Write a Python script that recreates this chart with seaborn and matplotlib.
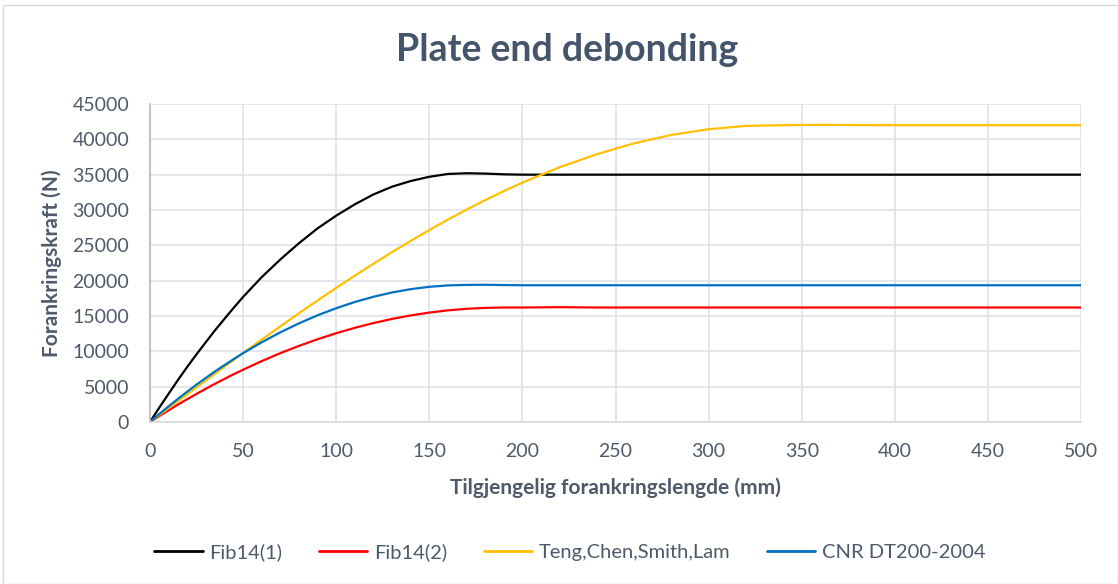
import numpy as np
import pandas as pd
import matplotlib
matplotlib.use("Agg")
import matplotlib.pyplot as plt
from matplotlib.patches import Rectangle
import seaborn as sns

# Available anchorage length (mm)
lengths = [0, 5, 10, 15, 20, 25, 30, 35, 40, 45, 50, 60, 70, 80, 90, 100, 110,
           120, 130, 140, 150, 160, 170, 180, 190, 200, 220, 240, 260, 280, 300,
           320, 340, 360, 380, 400, 450, 500]

# Anchorage force (N) per method
fib14_1 = [0, 2040, 4000, 5940, 7800, 9590, 11300, 13000, 14600, 16170, 17700,
           20500, 23000, 25300, 27400, 29200, 30800, 32200, 33300, 34100, 34700,
           35100, 35200, 35150, 35050, 35000, 35000, 35000, 35000, 35000, 35000,
           35000, 35000, 35000, 35000, 35000, 35000, 35000]
fib14_2 = [0, 840, 1660, 2460, 3230, 3980, 4710, 5420, 6100, 6770, 7400,
           8620, 9740, 10770, 11710, 12560, 13330, 14000, 14590, 15080, 15480,
           15800, 16020, 16150, 16200, 16200, 16250, 16200, 16200, 16200, 16200,
           16200, 16200, 16200, 16200, 16200, 16200, 16200]
teng = [0, 985, 1970, 2950, 3930, 4910, 5890, 6860, 7830, 8800, 9760,
        11660, 13540, 15390, 17200, 18980, 20710, 22400, 24040, 25630, 27170,
        28640, 30050, 31400, 32670, 33870, 36050, 37900, 39440, 40620, 41430,
        41900, 42000, 42050, 42020, 42000, 42000, 42000]
cnr = [0, 1130, 2220, 3270, 4300, 5290, 6240, 7170, 8050, 8910, 9740,
       11280, 12690, 13960, 15100, 16100, 16980, 17720, 18330, 18800, 19130,
       19330, 19400, 19420, 19380, 19350, 19350, 19350, 19350, 19350, 19350,
       19350, 19350, 19350, 19350, 19350, 19350, 19350]

series_names = ["Fib14(1)", "Fib14(2)", "Teng,Chen,Smith,Lam", "CNR DT200-2004"]
series_colors = ["#000000", "#FF0000", "#FFC000", "#0070C0"]

frames = []
for name, vals in zip(series_names, [fib14_1, fib14_2, teng, cnr]):
    frames.append(pd.DataFrame({"L": lengths, "N": vals, "Metode": name}))
df = pd.concat(frames, ignore_index=True)

sns.set_theme(style="white")
plt.rcParams["font.family"] = ["Lato", "DejaVu Sans"]

text_color = "#4E5A6B"

fig = plt.figure(figsize=(11.18, 5.84), dpi=100)
ax = fig.add_axes([150 / 1118, 1 - 422 / 584, (1081 - 150) / 1118, (422 - 104) / 584])

sns.lineplot(data=df, x="L", y="N", hue="Metode", hue_order=series_names,
             palette=series_colors, linewidth=1.6, ax=ax, legend=False, sort=False)

ax.set_xlim(0, 500)
ax.set_ylim(0, 45000)
ax.set_xticks(np.arange(0, 501, 50))
ax.set_yticks(np.arange(0, 45001, 5000))
ax.grid(True, color="#DEE2E8", linewidth=1.2)
ax.set_axisbelow(True)
for side in ["top", "right"]:
    ax.spines[side].set_visible(False)
ax.spines["left"].set_color("#ADB9CA")
ax.spines["bottom"].set_color("#D9D9D9")
ax.spines["left"].set_linewidth(1.2)
ax.spines["bottom"].set_linewidth(1.2)
ax.tick_params(axis="both", length=0, labelsize=14, labelcolor=text_color)
ax.tick_params(axis="y", pad=15)
ax.tick_params(axis="x", pad=15)

ax.set_xlabel("Tilgjengelig forankringslengde (mm)", fontsize=15, fontweight="bold",
              color=text_color)
ax.set_ylabel("Forankringskraft (N)", fontsize=15, fontweight="bold",
              color=text_color)
ax.xaxis.set_label_coords(0.5, -(488 - 422) / (422 - 104))
ax.yaxis.set_label_coords(-(150 - 52) / (1081 - 150), 0.5)
ax.xaxis.label.set_va("center")
ax.yaxis.label.set_va("center")

fig.text(567 / 1118, 1 - 50 / 584, "Plate end debonding", ha="center", va="center",
         fontsize=27, fontweight="bold", color="#44546A")

# Legend below the plot
handles = [plt.Line2D([], [], color=c, linewidth=2) for c in series_colors]
fig.legend(handles, series_names, loc="center", bbox_to_anchor=(570 / 1118, 1 - 552 / 584),
           ncol=4, frameon=False, fontsize=14.5, labelcolor=text_color,
           handlelength=2.4, columnspacing=1.8, handletextpad=0.35)

# Chart border
fig.patches.append(Rectangle((3 / 1118, 0), 1 - 3 / 1118, 1 - 5 / 584,
                             transform=fig.transFigure, fill=False,
                             edgecolor="#D9D9D9", linewidth=1.0))

fig.savefig("out.png", dpi=100, facecolor="white")
